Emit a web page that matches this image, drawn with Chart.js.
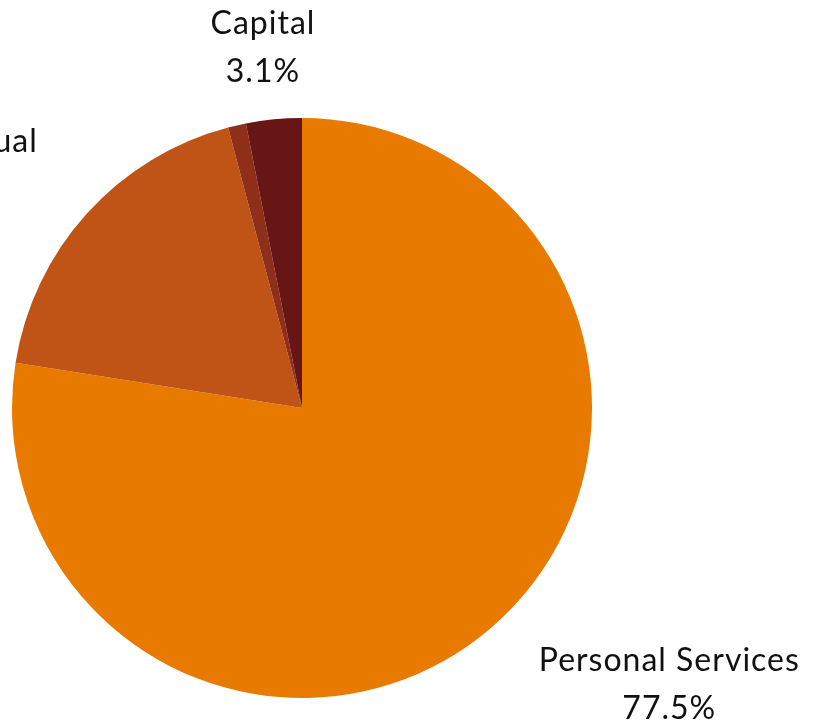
<!DOCTYPE html>
<html lang="en">
<head>
    <meta charset="UTF-8">
    <title>Expenditures by Category</title>
    <script src="https://cdn.jsdelivr.net/npm/chart.js@4.4.1/dist/chart.umd.min.js"></script>
    <style>
        html, body {
            margin: 0;
            padding: 0;
            background: #fff;
        }
        .chart-container {
            position: relative;
            width: 814px;
            height: 726px;
        }
    </style>
</head>
<body>
    <div class="chart-container">
        <canvas id="budgetChart" width="814" height="726"></canvas>
    </div>

    <script>
        // Budget shares by category (percent)
        const categories = ['Personal Services', 'Contractual', 'Other', 'Capital'];
        const shares = [77.5, 18.4, 1.0, 3.1];
        const sliceColors = ['#E87A00', '#C05417', '#8F2F1A', '#681515'];
        // slices that get an outside label
        const labelled = [true, true, false, true];

        // nudges for the outside labels, in px from the radial anchor
        const labelNudge = [[140, 11], [-92, -8], [0, 0], [-5, -12]];
        const LABEL_DIST = 60;
        const LINE_GAP = 48;
        const FONT = '32px Lato, "Noto Sans", sans-serif';

        const outsideLabels = {
            id: 'outsideLabels',
            afterDatasetsDraw(chart) {
                const ctx = chart.ctx;
                const meta = chart.getDatasetMeta(0);
                ctx.save();
                ctx.font = FONT;
                ctx.letterSpacing = '1px';
                ctx.fillStyle = '#111';
                ctx.textAlign = 'center';
                ctx.textBaseline = 'middle';
                meta.data.forEach((arc, i) => {
                    if (!labelled[i]) return;
                    const p = arc.getProps(['x', 'y', 'startAngle', 'endAngle', 'outerRadius'], true);
                    const mid = (p.startAngle + p.endAngle) / 2;
                    const r = p.outerRadius + LABEL_DIST;
                    const cx = p.x + Math.cos(mid) * r + labelNudge[i][0];
                    const cy = p.y + Math.sin(mid) * r + labelNudge[i][1];
                    ctx.fillText(categories[i], cx, cy - LINE_GAP / 2);
                    ctx.fillText(shares[i].toFixed(1) + '%', cx, cy + LINE_GAP / 2);
                });
                ctx.restore();
            }
        };

        const ctx = document.getElementById('budgetChart').getContext('2d');
        new Chart(ctx, {
            type: 'pie',
            data: {
                labels: categories,
                datasets: [{
                    data: shares,
                    backgroundColor: sliceColors,
                    borderWidth: 0
                }]
            },
            options: {
                responsive: false,
                animation: false,
                layout: {
                    padding: { left: 12, right: 222, top: 118, bottom: 28 }
                },
                plugins: {
                    legend: { display: false },
                    tooltip: { enabled: false }
                }
            },
            plugins: [outsideLabels]
        });
    </script>
</body>
</html>
